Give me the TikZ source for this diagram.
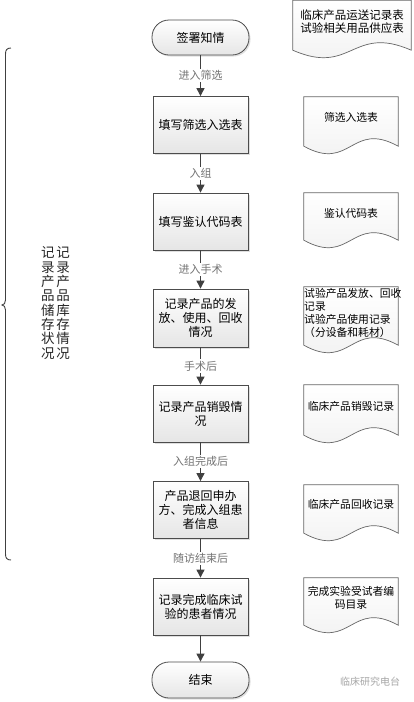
\documentclass[tikz,border=0pt]{standalone}
\usepackage{fontspec}
\setmainfont{Noto Sans CJK SC}
\usetikzlibrary{arrows.meta,shadows,calc}
\tikzset{
 proc/.style={draw=black!70, line width=0.8pt, top color=white, bottom color=black!10,
   minimum width=95pt, minimum height=57pt, align=center,
   font=\fontsize{12}{14}\selectfont, inner sep=2pt,
   drop shadow={shadow xshift=1.5pt, shadow yshift=-1.5pt, opacity=0.25}},
 term/.style={proc, rounded corners=17pt, minimum height=35pt, minimum width=97pt},
 docbox/.style={inner sep=0pt, minimum width=94pt},
 doctext/.style={font=\fontsize{10.8}{13}\selectfont, align=center, inner sep=0pt},
 docline/.style={draw=black!60, line width=0.7pt, top color=white, bottom color=black!6},
 flow/.style={draw=black!75, line width=0.9pt, -{Triangle[width=8pt,length=8pt]}},
 lbl/.style={fill=white, text=black!55, font=\fontsize{11}{13}\selectfont, inner sep=1.5pt},
 vtext/.style={align=center, inner sep=0pt, text=black!85, font=\fontsize{13.5}{14.3}\selectfont},
}
\newcommand\docshape[1]{%
  \path[docline] (#1.north west) -- (#1.north east) -- (#1.south east)
    .. controls ($(#1.south)+(0,-26)$) and ($(#1.south)+(0,26)$) .. (#1.south west) -- cycle;}
\begin{document}
\begin{tikzpicture}[x=1pt,y=-1pt]
\useasboundingbox[fill=white] (0,0) rectangle (413,702);

% flow nodes
\node[term] (start) at (200.5,37.5) {签署知情};
\node[proc] (b1) at (200.5,125) {填写筛选入选表};
\node[proc] (b2) at (200.5,221.5) {填写鉴认代码表};
\node[proc, minimum height=58pt] (b3) at (200.5,318) {记录产品的发\\放、使用、回收\\情况};
\node[proc] (b4) at (200.5,413.5) {记录产品销毁情\\况};
\node[proc] (b5) at (200.5,510) {产品退回申办\\方、完成入组患\\者信息};
\node[proc] (b6) at (200.5,606.5) {记录完成临床试\\验的患者情况};
\node[term, minimum height=36pt] (end) at (200.5,680) {结束};

% connectors
\draw[flow] (start) -- (b1) node[lbl, midway] {进入筛选};
\draw[flow] (b1) -- (b2) node[lbl, midway] {入组};
\draw[flow] (b2) -- (b3) node[lbl, midway] {进入手术};
\draw[flow] (b3) -- (b4) node[lbl, midway] {手术后};
\draw[flow] (b4) -- (b5) node[lbl, midway] {入组完成后};
\draw[flow] (b5) -- (b6) node[lbl, midway] {随访结束后};
\draw[flow] (b6) -- (end);

% documents
\node[docbox, minimum width=118pt, minimum height=49.5pt] (d0) at (352,25.25) {};
\docshape{d0}
\node[doctext, font=\fontsize{11.5}{13}\selectfont] (t0) at (352,21.5) {临床产品运送记录表\\试验相关用品供应表};

\node[docbox, minimum height=49pt] (d1) at (351,121.5) {};
\docshape{d1}
\node[doctext] (t1) at (351,117) {筛选入选表};

\node[docbox, minimum height=47pt] (d2) at (351,216.5) {};
\docshape{d2}
\node[doctext] (t2) at (351,213) {鉴认代码表};

\node[docbox, minimum height=58pt] (d3) at (351,316) {};
\docshape{d3}
\node[doctext, align=left, anchor=west] (t3) at (304,312.5) {试验产品发放、回收\\记录\\试验产品使用记录\\（分设备和耗材）};

\node[docbox, minimum height=50pt] (d4) at (351,410) {};
\docshape{d4}
\node[doctext] (t4) at (351,406) {临床产品销毁记录};

\node[docbox, minimum height=48pt] (d5) at (351,509) {};
\docshape{d5}
\node[doctext] (t5) at (351,504) {临床产品回收记录};

\node[docbox, minimum height=47pt] (d6) at (351,601.5) {};
\docshape{d6}
\node[doctext] (t6) at (351,598) {完成实验受试者编\\码目录};

% brace
\draw[black!75, line width=0.9pt]
  (11,48) .. controls (7,48) and (5.5,50) .. (5.5,54) -- (5.5,300)
  .. controls (5.5,303) and (4,305) .. (2,305)
  .. controls (4,305) and (5.5,307) .. (5.5,310) -- (5.5,554)
  .. controls (5.5,558) and (7,560) .. (11,560);

% vertical texts
\node[vtext] (v1) at (48,303) {记\\录\\产\\品\\储\\存\\状\\况};
\node[vtext] (v2) at (63,303) {记\\录\\产\\品\\库\\存\\情\\况};

% watermark
\node[text=black!35, font=\fontsize{10}{12}\selectfont, inner sep=0pt] (wm) at (370,682) {临床研究电台};
\end{tikzpicture}
\end{document}
